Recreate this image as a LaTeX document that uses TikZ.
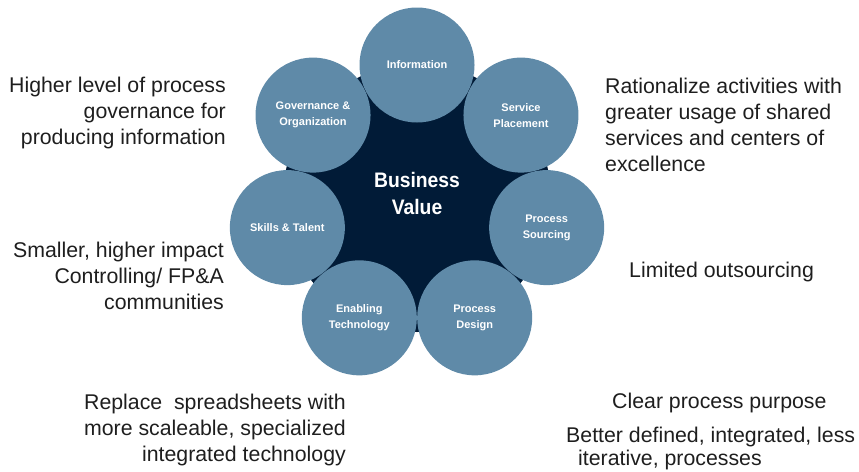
\documentclass[tikz,border=0pt]{standalone}
\usepackage{fontspec}
\setmainfont{Liberation Sans}
\usetikzlibrary{calc}
\definecolor{ringblue}{HTML}{5F8AA8}
\definecolor{corenavy}{HTML}{011B37}
\definecolor{txtgray}{HTML}{1E1E1E}
\begin{document}
\begin{tikzpicture}[x=1pt,y=-1pt,
  outer/.style={circle, fill=ringblue, minimum size=115pt, inner sep=0pt, text=white,
    align=center, font=\bfseries\fontsize{11}{16}\selectfont},
  note/.style={inner sep=0pt, text=txtgray, font=\fontsize{21.3}{26}\selectfont}]
\useasboundingbox (0,0) rectangle (859,471);
\coordinate (c) at (417,198);
\node[circle, fill=corenavy, minimum size=268pt, inner sep=0pt] (core) at (c) {};
\node[outer] (info) at ($(c)+(-90:133)$) {Information};
\node[outer] (serv) at ($(c)+(-38.57:133)$) {Service\\Placement};
\node[outer] (srcg) at ($(c)+(12.86:133)$) {Process\\Sourcing};
\node[outer] (desg) at ($(c)+(64.29:133)$) {Process\\Design};
\node[outer] (tech) at ($(c)+(115.71:133)$) {Enabling\\Technology};
\node[outer] (skil) at ($(c)+(167.14:133)$) {Skills \& Talent};
\node[outer] (gov) at ($(c)+(218.57:133)$) {Governance \&\\Organization};
\node[text=white, align=center, inner sep=0pt, font=\bfseries\fontsize{21}{27}\selectfont\addfontfeature{FakeStretch=0.92}] (bv) at (417,193) {Business\\Value};
\node[note, anchor=east, align=right] (t1) at (226,113) {Higher level of process\\governance for\\producing information};
\node[note, anchor=east, align=right] (t2) at (224,276) {Smaller, higher impact\\Controlling/ FP\&A\\communities};
\node[note, anchor=east, align=right] (t3) at (346,430) {Replace\ \ spreadsheets with\\more scaleable, specialized\\integrated technology};
\node[note, anchor=west, align=left] (t4) at (605,124.5) {Rationalize activities with\\greater usage of shared\\services and centers of\\excellence};
\node[note, anchor=west] (t5) at (629,272) {Limited outsourcing};
\node[note, anchor=west] (t6) at (612,403) {Clear process purpose};
\node[note, anchor=west, align=left, font=\fontsize{21.3}{23}\selectfont] (t7) at (566,448.5) {Better defined, integrated, less\\\hspace*{12pt}iterative, processes};
\end{tikzpicture}
\end{document}
